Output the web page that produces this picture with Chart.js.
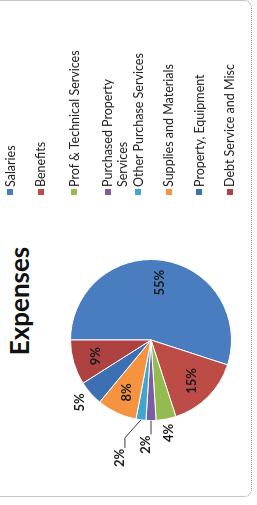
<!DOCTYPE html>
<html>
<head>
<meta charset="utf-8">
<script src="https://cdn.jsdelivr.net/npm/chart.js@4.4.1/dist/chart.umd.min.js"></script>
<style>
  html, body { margin: 0; padding: 0; background: #fff; }
  body { width: 257px; height: 505px; overflow: hidden; position: relative; }
  /* the chart is laid out landscape, then turned a quarter to the left */
  #page {
    position: absolute; left: 0; top: 0; width: 505px; height: 257px;
    transform-origin: 0 0; transform: translate(0, 505px) rotate(-90deg);
  }
  #frame {
    position: absolute; left: 8px; top: -12px; width: 497px; height: 264px;
    box-sizing: border-box; border: 1px dotted #8c8c8c; border-radius: 8px;
  }
  #title {
    position: absolute; left: 0; top: 4px; width: 408px; text-align: center;
    font: bold 26px/31px Lato, sans-serif; color: #111;
  }
  #pie { position: absolute; left: 0; top: 0; }
  #legend {
    position: absolute; left: 310px; top: 0; margin: 0; padding: 2.5px 0 0 0;
    list-style: none; font: 12.5px Lato, sans-serif; color: #222;
  }
  #legend li { display: flex; align-items: flex-start; height: 30.5px; line-height: 15px; }
  #legend li.wrap { margin-top: 3px; }
  #legend .box { width: 6px; height: 6px; margin: 4.5px 2px 0 0; flex: none; }
  #legend .txt { max-width: 140px; }
</style>
</head>
<body>
<div id="page">
  <div id="frame"></div>
  <div id="title">Expenses</div>
  <canvas id="pie" width="408" height="257"></canvas>
  <ul id="legend"></ul>
</div>
<script>
// Donnees
const categories = [
  'Salaries',
  'Benefits',
  'Prof & Technical Services',
  'Purchased Property Services',
  'Other Purchase Services',
  'Supplies and Materials',
  'Property, Equipment',
  'Debt Service and Misc'
];
const values = [55, 15, 4, 2, 2, 8, 5, 9];
const colors = ['#4a7dbf', '#bd4c46', '#93bb4f', '#7a5ea3', '#40a6cf', '#f59340', '#3d6fb3', '#ad4240'];

// where each percentage goes: inside, outside, or outside with a leader line
const labelPlace = ['in', 'in', 'out', 'lead', 'lead', 'in', 'out', 'in'];
const leaders = { 3: { run: 14, lift: 0, tail: 0 }, 4: { run: 18, lift: 16, tail: 10 } };

const pctLabels = {
  id: 'pctLabels',
  afterDatasetsDraw(chart) {
    const ctx = chart.ctx;
    const meta = chart.getDatasetMeta(0);
    const total = values.reduce((a, b) => a + b, 0);
    ctx.save();
    ctx.font = 'bold 13px Lato';
    ctx.fillStyle = '#1a1a1a';
    ctx.strokeStyle = '#3a3a3a';
    ctx.lineWidth = 1;
    ctx.textBaseline = 'middle';
    meta.data.forEach((arc, i) => {
      const p = arc.getProps(['x', 'y', 'startAngle', 'endAngle', 'outerRadius'], true);
      const mid = (p.startAngle + p.endAngle) / 2;
      const txt = Math.round(values[i] / total * 100) + '%';
      const R = p.outerRadius;
      if (labelPlace[i] === 'in' || labelPlace[i] === 'out') {
        const r = labelPlace[i] === 'in' ? R * 0.72 : R + 14;
        ctx.textAlign = 'center';
        ctx.fillText(txt, p.x + r * Math.cos(mid), p.y + r * Math.sin(mid));
      } else {
        const l = leaders[i];
        const sx = p.x + R * Math.cos(mid), sy = p.y + R * Math.sin(mid);
        const ex = sx - l.run, ey = sy - l.lift;
        const fx = ex - l.tail;
        ctx.beginPath();
        ctx.moveTo(sx, sy);
        ctx.lineTo(ex, ey);
        ctx.lineTo(fx, ey);
        ctx.stroke();
        ctx.textAlign = 'right';
        ctx.fillText(txt, fx - 1, ey - 5);
      }
    });
    ctx.restore();
  }
};

// legende HTML
const htmlLegend = {
  id: 'htmlLegend',
  afterUpdate(chart) {
    const ul = document.getElementById('legend');
    ul.innerHTML = '';
    chart.data.labels.forEach((label, i) => {
      const li = document.createElement('li');
      if (label.length > 24) li.className = 'wrap';
      const box = document.createElement('span');
      box.className = 'box';
      box.style.background = chart.data.datasets[0].backgroundColor[i];
      const txt = document.createElement('span');
      txt.className = 'txt';
      txt.textContent = label;
      li.appendChild(box);
      li.appendChild(txt);
      ul.appendChild(li);
    });
  }
};

const ctx = document.getElementById('pie').getContext('2d');
const pieChart = new Chart(ctx, {
  type: 'pie',
  data: {
    labels: categories,
    datasets: [{
      data: values,
      backgroundColor: colors,
      borderColor: '#ffffff',
      borderWidth: 1
    }]
  },
  options: {
    responsive: false,
    animation: false,
    layout: { padding: { left: 0, right: 78, top: 70, bottom: 25 } },
    plugins: {
      legend: { display: false },
      tooltip: { enabled: false },
      title: { display: false }
    }
  },
  plugins: [pctLabels, htmlLegend]
});
</script>
</body>
</html>
